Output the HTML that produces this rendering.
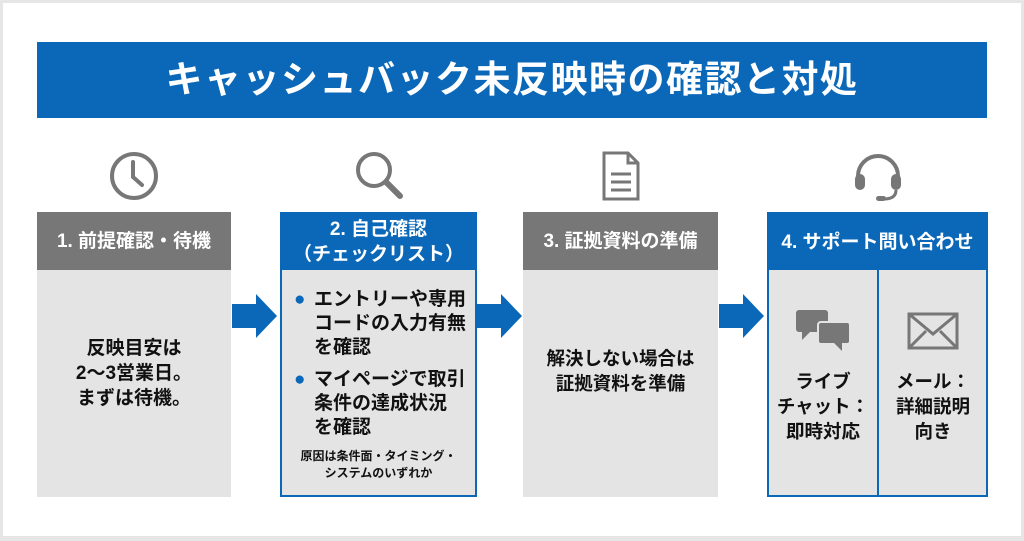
<!DOCTYPE html>
<html><head><meta charset="utf-8"><style>
*{margin:0;padding:0;box-sizing:border-box}
body{width:1024px;height:541px;background:#fff;position:relative;overflow:hidden;font-family:"Liberation Sans","Noto Sans CJK JP",sans-serif;font-weight:bold}
.frame{position:absolute;left:0;top:0;width:1024px;height:541px;border:3px solid #e6e6e6;border-bottom-width:5px}
.title{position:absolute;left:37px;top:42px;width:950px;height:76px;background:#0b68b8;color:#fff;font-size:37px;text-align:center;line-height:76px;letter-spacing:1.5px}
.box{position:absolute;top:212px;height:285px;background:#e4e4e4}
.hd{height:58px;color:#fff;display:flex;align-items:center;justify-content:center;text-align:center;font-size:19px;line-height:25px}
.gray .hd{background:#777}
.blue{border:2px solid #0b68b8}
.blue .hd{background:#0b68b8;height:56px}
.txt{color:#111;font-size:19px;line-height:25px;text-align:center}
.arrow{position:absolute;top:294px}
.icon{position:absolute;top:150px}
</style></head><body>
<div class="frame"></div>
<div class="title">キャッシュバック未反映時の確認と対処</div>

<svg class="icon" style="left:108px" width="52" height="52" viewBox="0 0 52 52"><circle cx="26" cy="26" r="22" fill="none" stroke="#777" stroke-width="4"/><path d="M25 12v15l9 8" fill="none" stroke="#777" stroke-width="4" stroke-linecap="round"/></svg>
<svg class="icon" style="left:352px" width="56" height="56" viewBox="0 0 56 56"><circle cx="22" cy="20" r="16" fill="none" stroke="#777" stroke-width="4"/><path d="M34 32l14 14" stroke="#777" stroke-width="6" stroke-linecap="round"/></svg>
<svg class="icon" style="left:601px" width="40" height="52" viewBox="0 0 40 52"><path d="M3 3h24l10 10v36H3z" fill="none" stroke="#777" stroke-width="3"/><path d="M27 3v10h10" fill="none" stroke="#777" stroke-width="3"/><path d="M10 24h20M10 32h20M10 40h20" stroke="#777" stroke-width="3"/></svg>
<svg class="icon" style="left:850px" width="56" height="56" viewBox="0 0 56 56"><path d="M8 32V26a20 20 0 0 1 40 0v6" fill="none" stroke="#777" stroke-width="4"/><rect x="5" y="24" width="10" height="16" rx="5" fill="#777"/><rect x="41" y="24" width="10" height="16" rx="5" fill="#777"/><path d="M46 40q0 9-12 9" fill="none" stroke="#777" stroke-width="3"/><rect x="26" y="46" width="10" height="5" rx="2.5" fill="#777"/></svg>

<div class="box gray" style="left:37px;width:194px">
 <div class="hd">1. 前提確認・待機</div>
 <div class="txt" style="margin-top:66px;font-size:19px">反映目安は<br>2〜3営業日。<br>まずは待機。</div>
</div>
<div class="box blue" style="left:280px;width:197px">
 <div class="hd">2. 自己確認<br>（チェックリスト）</div>
 <div class="txt" style="text-align:left;padding:18px 0 0 12px;font-size:19px;line-height:24px">
  <div style="display:flex"><span style="color:#0b68b8;width:20px">●</span><span>エントリーや専用<br>コードの入力有無<br>を確認</span></div>
  <div style="display:flex;margin-top:8px"><span style="color:#0b68b8;width:20px">●</span><span>マイページで取引<br>条件の達成状況<br>を確認</span></div>
 </div>
 <div class="txt" style="font-size:12px;line-height:17px;margin-top:8px">原因は条件面・タイミング・<br>システムのいずれか</div>
</div>
<div class="box gray" style="left:523px;width:195px">
 <div class="hd">3. 証拠資料の準備</div>
 <div class="txt" style="margin-top:76px;font-size:18.5px">解決しない場合は<br>証拠資料を準備</div>
</div>
<div class="box blue" style="left:767px;width:221px">
 <div class="hd">4. サポート問い合わせ</div>
 <div style="position:absolute;left:108px;top:56px;width:2px;height:227px;background:#0b68b8"></div>
 <svg style="position:absolute;left:27px;top:96px" width="56" height="42" viewBox="0 0 56 42"><rect x="0" y="0" width="32" height="22" rx="3" fill="#777"/><path d="M6 22v8l8-8z" fill="#777"/><rect x="22" y="12" width="32" height="22" rx="3" fill="#777" stroke="#e4e4e4" stroke-width="2"/><path d="M46 33v8l-8-8z" fill="#777"/></svg>
 <svg style="position:absolute;left:138px;top:98px" width="52" height="38" viewBox="0 0 52 38"><rect x="2" y="2" width="48" height="34" fill="none" stroke="#777" stroke-width="3"/><path d="M2 2l24 20 24-20M2 36l17-17M50 36 33 19" fill="none" stroke="#777" stroke-width="3"/></svg>
 <div class="txt" style="position:absolute;left:0;top:155px;width:108px;font-size:18.5px">ライブ<br>チャット：<br>即時対応</div>
 <div class="txt" style="position:absolute;left:110px;top:155px;width:108px;font-size:18.5px">メール：<br>詳細説明<br>向き</div>
</div>

<svg class="arrow" style="left:232px" width="46" height="44" viewBox="0 0 46 44"><path d="M0 10h24V0l21 22-21 22V34H0z" fill="#0b68b8"/></svg>
<svg class="arrow" style="left:477px" width="46" height="44" viewBox="0 0 46 44"><path d="M0 10h24V0l21 22-21 22V34H0z" fill="#0b68b8"/></svg>
<svg class="arrow" style="left:719px" width="46" height="44" viewBox="0 0 46 44"><path d="M0 10h24V0l21 22-21 22V34H0z" fill="#0b68b8"/></svg>
</body></html>
